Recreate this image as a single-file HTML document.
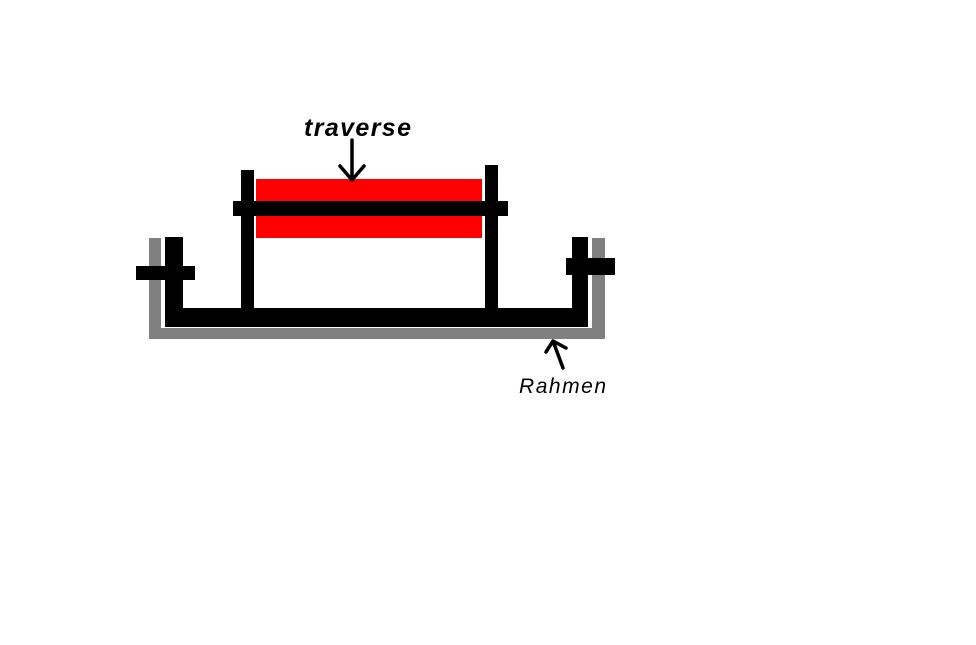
<!DOCTYPE html>
<html><head><style>
body{margin:0;background:#fff;width:976px;height:645px;overflow:hidden;position:relative}
.r{position:absolute}
</style></head><body>
<div class="r" style="left:149px;top:238px;width:456px;height:101px;background:#808080"></div>
<div class="r" style="left:161px;top:238px;width:431px;height:90px;background:#fff"></div>
<div class="r" style="left:165px;top:237px;width:18px;height:90px;background:#000"></div>
<div class="r" style="left:572px;top:237px;width:16px;height:90px;background:#000"></div>
<div class="r" style="left:165px;top:308px;width:423px;height:19px;background:#000"></div>
<div class="r" style="left:136px;top:266px;width:59px;height:14px;background:#000"></div>
<div class="r" style="left:566px;top:258px;width:49px;height:17px;background:#000"></div>
<div class="r" style="left:256px;top:179px;width:226px;height:59px;background:#f00"></div>
<div class="r" style="left:241px;top:170px;width:13px;height:140px;background:#000"></div>
<div class="r" style="left:485px;top:165px;width:13px;height:145px;background:#000"></div>
<div class="r" style="left:233px;top:201px;width:275px;height:15px;background:#000"></div>
<svg class="r" style="left:0;top:0" width="976" height="645">
<g stroke="#000" stroke-width="3.5" fill="none" stroke-linecap="round" stroke-linejoin="round">
<path d="M352 140 L352 180 M340 166 L352 180 L364 166"/>
<path d="M563 368 L553 341 M546 352 L553 341 L566 348"/>
</g>
<text x="304" y="136" font-family="Liberation Sans, sans-serif" font-style="italic" font-weight="bold" font-size="25" fill="#000" textLength="107">traverse</text>
<text x="519" y="393" font-family="Liberation Sans, sans-serif" font-style="italic" font-size="21" fill="#000" textLength="87">Rahmen</text>
</svg>
</body></html>
